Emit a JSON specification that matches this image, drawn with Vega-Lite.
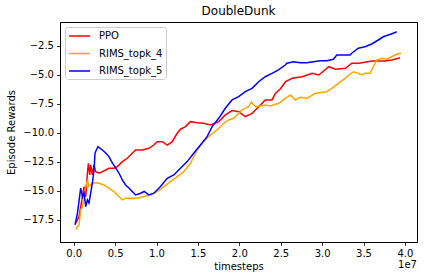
{
  "$schema": "https://vega.github.io/schema/vega-lite/v6.json",
  "width": 357,
  "height": 220,
  "autosize": {"type": "none"},
  "padding": {"left": 60, "top": 22, "right": 7, "bottom": 38},
  "background": "white",
  "title": {"text": "DoubleDunk", "fontSize": 12, "font": "DejaVu Sans", "fontWeight": "normal", "color": "black", "offset": 4},
  "config": {
    "font": "DejaVu Sans",
    "view": {"stroke": "black", "strokeWidth": 1},
    "axis": {
      "grid": false,
      "domainColor": "black",
      "domainWidth": 0.8,
      "tickColor": "black",
      "tickSize": 3.5,
      "tickWidth": 0.8,
      "labelFont": "DejaVu Sans",
      "labelFontSize": 10,
      "labelColor": "black",
      "labelPadding": 3,
      "labelFlush": false,
      "labelOverlap": false,
      "titleFont": "DejaVu Sans",
      "titleFontSize": 10,
      "titleFontWeight": "normal",
      "titleColor": "black"
    }
  },
  "datasets": {
    "curves": [
      {"series": "PPO", "t": 0.024, "r": -17.78},
      {"series": "PPO", "t": 0.064, "r": -17.22},
      {"series": "PPO", "t": 0.105, "r": -15.49},
      {"series": "PPO", "t": 0.124, "r": -14.63},
      {"series": "PPO", "t": 0.145, "r": -15.49},
      {"series": "PPO", "t": 0.165, "r": -13.48},
      {"series": "PPO", "t": 0.177, "r": -12.62},
      {"series": "PPO", "t": 0.193, "r": -13.63},
      {"series": "PPO", "t": 0.205, "r": -12.77},
      {"series": "PPO", "t": 0.225, "r": -13.63},
      {"series": "PPO", "t": 0.245, "r": -12.77},
      {"series": "PPO", "t": 0.265, "r": -13.34},
      {"series": "PPO", "t": 0.305, "r": -13.48},
      {"series": "PPO", "t": 0.346, "r": -13.34},
      {"series": "PPO", "t": 0.386, "r": -13.2},
      {"series": "PPO", "t": 0.425, "r": -13.05},
      {"series": "PPO", "t": 0.486, "r": -13.05},
      {"series": "PPO", "t": 0.527, "r": -12.91},
      {"series": "PPO", "t": 0.587, "r": -12.48},
      {"series": "PPO", "t": 0.647, "r": -12.19},
      {"series": "PPO", "t": 0.707, "r": -11.76},
      {"series": "PPO", "t": 0.747, "r": -11.48},
      {"series": "PPO", "t": 0.828, "r": -11.48},
      {"series": "PPO", "t": 0.907, "r": -11.33},
      {"series": "PPO", "t": 0.967, "r": -11.05},
      {"series": "PPO", "t": 1.008, "r": -10.76},
      {"series": "PPO", "t": 1.069, "r": -10.76},
      {"series": "PPO", "t": 1.129, "r": -11.05},
      {"series": "PPO", "t": 1.189, "r": -10.76},
      {"series": "PPO", "t": 1.249, "r": -10.04},
      {"series": "PPO", "t": 1.289, "r": -9.69},
      {"series": "PPO", "t": 1.349, "r": -9.47},
      {"series": "PPO", "t": 1.41, "r": -9.04},
      {"series": "PPO", "t": 1.49, "r": -9.13},
      {"series": "PPO", "t": 1.57, "r": -9.18},
      {"series": "PPO", "t": 1.651, "r": -9.32},
      {"series": "PPO", "t": 1.751, "r": -9.04},
      {"series": "PPO", "t": 1.831, "r": -8.46},
      {"series": "PPO", "t": 1.912, "r": -8.09},
      {"series": "PPO", "t": 1.992, "r": -8.18},
      {"series": "PPO", "t": 2.072, "r": -8.61},
      {"series": "PPO", "t": 2.153, "r": -8.32},
      {"series": "PPO", "t": 2.233, "r": -7.75},
      {"series": "PPO", "t": 2.313, "r": -7.17},
      {"series": "PPO", "t": 2.394, "r": -7.17},
      {"series": "PPO", "t": 2.437, "r": -6.6},
      {"series": "PPO", "t": 2.494, "r": -6.23},
      {"series": "PPO", "t": 2.558, "r": -5.6},
      {"series": "PPO", "t": 2.639, "r": -5.31},
      {"series": "PPO", "t": 2.759, "r": -5.17},
      {"series": "PPO", "t": 2.88, "r": -4.88},
      {"series": "PPO", "t": 2.96, "r": -5.02},
      {"series": "PPO", "t": 3.081, "r": -4.31},
      {"series": "PPO", "t": 3.16, "r": -4.53},
      {"series": "PPO", "t": 3.281, "r": -4.45},
      {"series": "PPO", "t": 3.358, "r": -4.01},
      {"series": "PPO", "t": 3.442, "r": -4.01},
      {"series": "PPO", "t": 3.602, "r": -3.82},
      {"series": "PPO", "t": 3.763, "r": -3.82},
      {"series": "PPO", "t": 3.84, "r": -3.73},
      {"series": "PPO", "t": 3.924, "r": -3.58},
      {"series": "PPO", "t": 3.94, "r": -3.5},

      {"series": "RIMS_topk_4", "t": 0.024, "r": -18.3},
      {"series": "RIMS_topk_4", "t": 0.064, "r": -17.93},
      {"series": "RIMS_topk_4", "t": 0.084, "r": -16.64},
      {"series": "RIMS_topk_4", "t": 0.105, "r": -16.36},
      {"series": "RIMS_topk_4", "t": 0.124, "r": -15.35},
      {"series": "RIMS_topk_4", "t": 0.145, "r": -14.63},
      {"series": "RIMS_topk_4", "t": 0.165, "r": -14.06},
      {"series": "RIMS_topk_4", "t": 0.184, "r": -14.63},
      {"series": "RIMS_topk_4", "t": 0.225, "r": -14.34},
      {"series": "RIMS_topk_4", "t": 0.265, "r": -14.29},
      {"series": "RIMS_topk_4", "t": 0.305, "r": -14.34},
      {"series": "RIMS_topk_4", "t": 0.365, "r": -14.49},
      {"series": "RIMS_topk_4", "t": 0.425, "r": -14.77},
      {"series": "RIMS_topk_4", "t": 0.486, "r": -15.06},
      {"series": "RIMS_topk_4", "t": 0.546, "r": -15.49},
      {"series": "RIMS_topk_4", "t": 0.587, "r": -15.78},
      {"series": "RIMS_topk_4", "t": 0.627, "r": -15.63},
      {"series": "RIMS_topk_4", "t": 0.687, "r": -15.63},
      {"series": "RIMS_topk_4", "t": 0.767, "r": -15.63},
      {"series": "RIMS_topk_4", "t": 0.847, "r": -15.49},
      {"series": "RIMS_topk_4", "t": 0.928, "r": -15.35},
      {"series": "RIMS_topk_4", "t": 1.008, "r": -15.06},
      {"series": "RIMS_topk_4", "t": 1.088, "r": -14.63},
      {"series": "RIMS_topk_4", "t": 1.169, "r": -14.2},
      {"series": "RIMS_topk_4", "t": 1.249, "r": -13.77},
      {"series": "RIMS_topk_4", "t": 1.329, "r": -13.34},
      {"series": "RIMS_topk_4", "t": 1.41, "r": -12.62},
      {"series": "RIMS_topk_4", "t": 1.49, "r": -11.48},
      {"series": "RIMS_topk_4", "t": 1.57, "r": -10.76},
      {"series": "RIMS_topk_4", "t": 1.651, "r": -10.19},
      {"series": "RIMS_topk_4", "t": 1.731, "r": -9.75},
      {"series": "RIMS_topk_4", "t": 1.811, "r": -9.18},
      {"series": "RIMS_topk_4", "t": 1.871, "r": -8.89},
      {"series": "RIMS_topk_4", "t": 1.931, "r": -8.75},
      {"series": "RIMS_topk_4", "t": 1.972, "r": -8.46},
      {"series": "RIMS_topk_4", "t": 2.033, "r": -8.03},
      {"series": "RIMS_topk_4", "t": 2.112, "r": -7.75},
      {"series": "RIMS_topk_4", "t": 2.145, "r": -7.35},
      {"series": "RIMS_topk_4", "t": 2.196, "r": -7.75},
      {"series": "RIMS_topk_4", "t": 2.317, "r": -7.6},
      {"series": "RIMS_topk_4", "t": 2.373, "r": -7.69},
      {"series": "RIMS_topk_4", "t": 2.478, "r": -7.46},
      {"series": "RIMS_topk_4", "t": 2.554, "r": -7.03},
      {"series": "RIMS_topk_4", "t": 2.618, "r": -6.74},
      {"series": "RIMS_topk_4", "t": 2.678, "r": -7.17},
      {"series": "RIMS_topk_4", "t": 2.735, "r": -6.94},
      {"series": "RIMS_topk_4", "t": 2.816, "r": -7.03},
      {"series": "RIMS_topk_4", "t": 2.919, "r": -6.6},
      {"series": "RIMS_topk_4", "t": 3.057, "r": -6.46},
      {"series": "RIMS_topk_4", "t": 3.117, "r": -6.17},
      {"series": "RIMS_topk_4", "t": 3.196, "r": -5.74},
      {"series": "RIMS_topk_4", "t": 3.277, "r": -5.31},
      {"series": "RIMS_topk_4", "t": 3.337, "r": -4.94},
      {"series": "RIMS_topk_4", "t": 3.38, "r": -4.74},
      {"series": "RIMS_topk_4", "t": 3.437, "r": -4.88},
      {"series": "RIMS_topk_4", "t": 3.478, "r": -5.02},
      {"series": "RIMS_topk_4", "t": 3.518, "r": -4.88},
      {"series": "RIMS_topk_4", "t": 3.578, "r": -4.88},
      {"series": "RIMS_topk_4", "t": 3.618, "r": -4.31},
      {"series": "RIMS_topk_4", "t": 3.659, "r": -3.73},
      {"series": "RIMS_topk_4", "t": 3.719, "r": -3.58},
      {"series": "RIMS_topk_4", "t": 3.78, "r": -3.67},
      {"series": "RIMS_topk_4", "t": 3.84, "r": -3.45},
      {"series": "RIMS_topk_4", "t": 3.9, "r": -3.24},
      {"series": "RIMS_topk_4", "t": 3.952, "r": -3.15},

      {"series": "RIMS_topk_5", "t": 0.016, "r": -17.93},
      {"series": "RIMS_topk_5", "t": 0.045, "r": -16.92},
      {"series": "RIMS_topk_5", "t": 0.084, "r": -14.77},
      {"series": "RIMS_topk_5", "t": 0.105, "r": -15.49},
      {"series": "RIMS_topk_5", "t": 0.124, "r": -15.18},
      {"series": "RIMS_topk_5", "t": 0.145, "r": -16.36},
      {"series": "RIMS_topk_5", "t": 0.165, "r": -15.78},
      {"series": "RIMS_topk_5", "t": 0.184, "r": -16.04},
      {"series": "RIMS_topk_5", "t": 0.205, "r": -15.18},
      {"series": "RIMS_topk_5", "t": 0.225, "r": -14.32},
      {"series": "RIMS_topk_5", "t": 0.245, "r": -13.2},
      {"series": "RIMS_topk_5", "t": 0.257, "r": -11.73},
      {"series": "RIMS_topk_5", "t": 0.273, "r": -11.48},
      {"series": "RIMS_topk_5", "t": 0.293, "r": -11.19},
      {"series": "RIMS_topk_5", "t": 0.346, "r": -11.48},
      {"series": "RIMS_topk_5", "t": 0.386, "r": -11.73},
      {"series": "RIMS_topk_5", "t": 0.425, "r": -12.05},
      {"series": "RIMS_topk_5", "t": 0.466, "r": -12.59},
      {"series": "RIMS_topk_5", "t": 0.506, "r": -13.02},
      {"series": "RIMS_topk_5", "t": 0.546, "r": -13.46},
      {"series": "RIMS_topk_5", "t": 0.587, "r": -14.06},
      {"series": "RIMS_topk_5", "t": 0.627, "r": -14.49},
      {"series": "RIMS_topk_5", "t": 0.666, "r": -14.75},
      {"series": "RIMS_topk_5", "t": 0.707, "r": -15.06},
      {"series": "RIMS_topk_5", "t": 0.747, "r": -15.35},
      {"series": "RIMS_topk_5", "t": 0.807, "r": -15.2},
      {"series": "RIMS_topk_5", "t": 0.85, "r": -15.05},
      {"series": "RIMS_topk_5", "t": 0.907, "r": -15.35},
      {"series": "RIMS_topk_5", "t": 0.967, "r": -15.2},
      {"series": "RIMS_topk_5", "t": 1.048, "r": -14.63},
      {"series": "RIMS_topk_5", "t": 1.129, "r": -13.91},
      {"series": "RIMS_topk_5", "t": 1.208, "r": -13.63},
      {"series": "RIMS_topk_5", "t": 1.289, "r": -13.05},
      {"series": "RIMS_topk_5", "t": 1.37, "r": -12.48},
      {"series": "RIMS_topk_5", "t": 1.449, "r": -11.76},
      {"series": "RIMS_topk_5", "t": 1.53, "r": -11.05},
      {"series": "RIMS_topk_5", "t": 1.611, "r": -10.33},
      {"series": "RIMS_topk_5", "t": 1.671, "r": -9.47},
      {"series": "RIMS_topk_5", "t": 1.751, "r": -8.75},
      {"series": "RIMS_topk_5", "t": 1.831, "r": -7.89},
      {"series": "RIMS_topk_5", "t": 1.912, "r": -7.17},
      {"series": "RIMS_topk_5", "t": 1.992, "r": -6.89},
      {"series": "RIMS_topk_5", "t": 2.072, "r": -6.46},
      {"series": "RIMS_topk_5", "t": 2.153, "r": -6.17},
      {"series": "RIMS_topk_5", "t": 2.233, "r": -5.6},
      {"series": "RIMS_topk_5", "t": 2.313, "r": -5.17},
      {"series": "RIMS_topk_5", "t": 2.394, "r": -4.88},
      {"series": "RIMS_topk_5", "t": 2.473, "r": -4.59},
      {"series": "RIMS_topk_5", "t": 2.554, "r": -4.16},
      {"series": "RIMS_topk_5", "t": 2.575, "r": -4.01},
      {"series": "RIMS_topk_5", "t": 2.654, "r": -3.88},
      {"series": "RIMS_topk_5", "t": 2.735, "r": -3.96},
      {"series": "RIMS_topk_5", "t": 2.816, "r": -3.96},
      {"series": "RIMS_topk_5", "t": 2.895, "r": -3.88},
      {"series": "RIMS_topk_5", "t": 2.976, "r": -3.79},
      {"series": "RIMS_topk_5", "t": 3.057, "r": -3.79},
      {"series": "RIMS_topk_5", "t": 3.136, "r": -3.67},
      {"series": "RIMS_topk_5", "t": 3.177, "r": -3.3},
      {"series": "RIMS_topk_5", "t": 3.257, "r": -3.3},
      {"series": "RIMS_topk_5", "t": 3.337, "r": -3.3},
      {"series": "RIMS_topk_5", "t": 3.358, "r": -3.15},
      {"series": "RIMS_topk_5", "t": 3.437, "r": -2.72},
      {"series": "RIMS_topk_5", "t": 3.518, "r": -2.59},
      {"series": "RIMS_topk_5", "t": 3.599, "r": -2.35},
      {"series": "RIMS_topk_5", "t": 3.678, "r": -2.01},
      {"series": "RIMS_topk_5", "t": 3.739, "r": -1.73},
      {"series": "RIMS_topk_5", "t": 3.799, "r": -1.58},
      {"series": "RIMS_topk_5", "t": 3.859, "r": -1.43},
      {"series": "RIMS_topk_5", "t": 3.9, "r": -1.3}
    ],
    "offsetLabel": [{"label": "1e7", "t": 4.146, "r": -21.35}]
  },
  "encoding": {
    "x": {
      "field": "t", "type": "quantitative",
      "scale": {"domain": [-0.166, 4.146], "nice": false, "zero": false},
      "axis": {"title": "timesteps", "values": [0, 0.5, 1, 1.5, 2, 2.5, 3, 3.5, 4], "format": ".1f", "titlePadding": 3}
    },
    "y": {
      "field": "r", "type": "quantitative",
      "scale": {"domain": [-19.4, -0.46], "nice": false, "zero": false},
      "axis": {"title": "Episode Rewards", "values": [-17.5, -15, -12.5, -10, -7.5, -5, -2.5], "format": ".1f", "titlePadding": 6, "labelOverlap": false}
    }
  },
  "layer": [
    {
      "data": {"name": "curves"},
      "mark": {"type": "line", "strokeWidth": 1.5, "clip": true},
      "encoding": {
        "color": {
          "field": "series", "type": "nominal",
          "scale": {"domain": ["PPO", "RIMS_topk_4", "RIMS_topk_5"], "range": ["#ff0000", "#ffa500", "#0000ff"]},
          "legend": {
            "title": null,
            "orient": "top-left",
            "offset": 5,
            "symbolType": "M-1,0H3.2",
            "symbolStrokeWidth": 1.5,
            "symbolSize": 100,
            "labelFontSize": 10,
            "labelFont": "DejaVu Sans",
            "labelColor": "black",
            "labelOffset": 19,
            "rowPadding": 6.5,
            "padding": 3,
            "strokeColor": "#cccccc",
            "fillColor": "rgba(255,255,255,0.8)",
            "cornerRadius": 3
          }
        }
      }
    },
    {
      "data": {"name": "offsetLabel"},
      "mark": {"type": "text", "align": "right", "baseline": "middle", "fontSize": 10, "font": "DejaVu Sans", "color": "black", "clip": false},
      "encoding": {
        "text": {"field": "label"}
      }
    }
  ]
}
